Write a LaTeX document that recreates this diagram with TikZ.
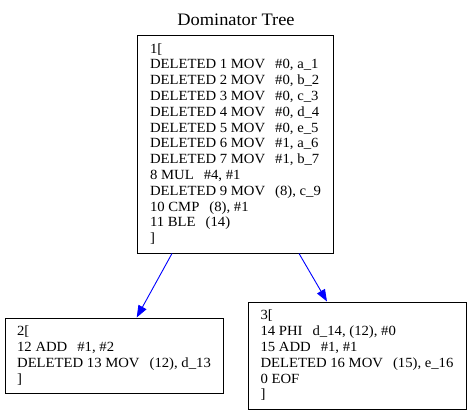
\documentclass[tikz,border=0pt]{standalone}
\usepackage{fontspec}
\setmainfont{Liberation Serif}[FakeStretch=1.05]
\usetikzlibrary{arrows.meta}
\newcommand\tb{\hspace{10pt}}
\begin{document}
\begin{tikzpicture}[x=1pt,y=-1pt,
  box/.style={draw=black, line width=1pt, rectangle, inner sep=0pt, align=left,
    font=\fontsize{14pt}{15.8pt}\selectfont},
  arr/.style={draw=blue, line width=0.9pt, -{Triangle[length=12pt,width=9pt,fill=blue]}},
  ttl/.style={font=\fontsize{17.5pt}{19pt}\selectfont, inner sep=0pt}]
\useasboundingbox (0,0) rectangle (472,415);
\node[ttl] (title) at (236,20) {Dominator Tree};
\node[box, minimum width=196pt, minimum height=218pt] (n1) at (235.5,144) {1[\\
DELETED 1 MOV\tb\#0, a\_1\\
DELETED 2 MOV\tb\#0, b\_2\\
DELETED 3 MOV\tb\#0, c\_3\\
DELETED 4 MOV\tb\#0, d\_4\\
DELETED 5 MOV\tb\#0, e\_5\\
DELETED 6 MOV\tb\#1, a\_6\\
DELETED 7 MOV\tb\#1, b\_7\\
8 MUL\tb\#4, \#1\\
DELETED 9 MOV\tb(8), c\_9\\
10 CMP\tb(8), \#1\\
11 BLE\tb(14)\\
]};
\node[box, minimum width=218pt, minimum height=75pt] (n2) at (114,355.5) {2[\\
12 ADD\tb\#1, \#2\\
DELETED 13 MOV\tb(12), d\_13\\
]};
\node[box, minimum width=218pt, minimum height=107pt] (n3) at (357,355.5) {3[\\
14 PHI\tb d\_14, (12), \#0\\
15 ADD\tb\#1, \#1\\
DELETED 16 MOV\tb(15), e\_16\\
0 EOF\\
]};
\draw[arr] ([xshift=-63.5pt]n1.south) -- ([xshift=22.7pt]n2.north);
\draw[arr] ([xshift=63.5pt]n1.south) -- ([xshift=-30pt]n3.north);
\end{tikzpicture}
\end{document}
